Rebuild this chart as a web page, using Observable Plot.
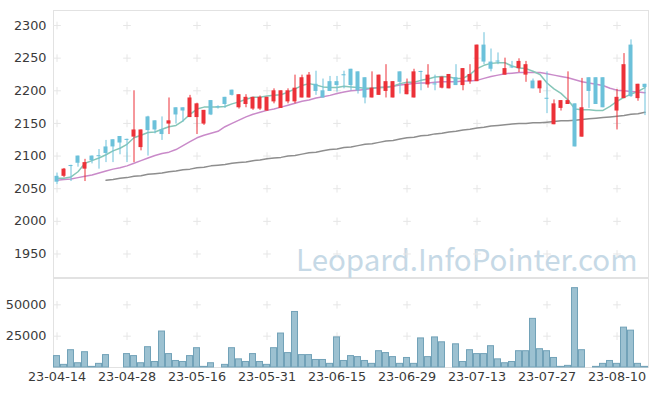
<!DOCTYPE html>
<html><head><meta charset="utf-8">
<script src="https://cdn.jsdelivr.net/npm/d3@7"></script>
<script src="https://cdn.jsdelivr.net/npm/@observablehq/plot@0.6"></script>
<style>
body{margin:0;background:#fff}
#chart{width:657px;height:396px;overflow:hidden}
#chart svg{display:block}
</style>
</head><body><div id="chart"></div>
<script>
const dates = [
"23-04-14","23-04-17","23-04-18","23-04-19","23-04-20","23-04-21","23-04-24","23-04-25","23-04-26","23-04-27",
"23-04-28","23-05-02","23-05-03","23-05-04","23-05-08","23-05-09","23-05-10","23-05-11","23-05-12","23-05-15",
"23-05-16","23-05-17","23-05-18","23-05-19","23-05-22","23-05-23","23-05-24","23-05-25","23-05-26","23-05-30",
"23-05-31","23-06-01","23-06-02","23-06-05","23-06-07","23-06-08","23-06-09","23-06-12","23-06-13","23-06-14",
"23-06-15","23-06-16","23-06-19","23-06-20","23-06-21","23-06-22","23-06-23","23-06-26","23-06-27","23-06-28",
"23-06-29","23-06-30","23-07-03","23-07-04","23-07-05","23-07-06","23-07-07","23-07-10","23-07-11","23-07-12",
"23-07-13","23-07-14","23-07-17","23-07-18","23-07-19","23-07-20","23-07-21","23-07-24","23-07-25","23-07-26",
"23-07-27","23-07-28","23-07-31","23-08-01","23-08-02","23-08-03","23-08-04","23-08-07","23-08-08","23-08-09",
"23-08-10","23-08-11","23-08-14","23-08-16","23-08-17"];

const open = [2069,2069,2085,2100,2080,2100,2100,2114,2125,2130,
2125,2129,2113,2160,2154,2140,2149,2174,2174,2159,
2159,2149,2185,2175,2190,2201,2174,2179,2172,2172,
2169,2183,2173,2183,2183,2189,2189,2210,2200,2214,
2214,2224,2233,2229,2220,2189,2193,2199,2189,2229,
2194,2189,2229,2209,2210,2204,2203,2220,2208,2214,
2214,2270,2244,2245,2224,2236,2234,2224,2215,2203,
2188,2148,2173,2179,2180,2129,2220,2220,2220,null,
2169,2188,2270,2188,2210];
const high = [2074,2081,2086,2100,2095,2100,2110,2124,2125,2130,
2126,2200,2140,2161,2154,2160,2189,2174,2174,2193,
2181,2170,2185,2177,2190,2201,2194,2194,2190,2192,
2190,2203,2200,2203,2224,2224,2228,2230,2218,2222,
2222,2230,2233,2229,2220,2229,2224,2240,2214,2229,
2218,2233,2230,2240,2224,2221,2225,2240,2234,2240,
2270,2289,2264,2258,2250,2245,2249,2245,2218,2215,
2229,2186,2185,2229,2180,2219,2220,2220,2220,null,
2202,2257,2278,2210,2210];
const low = [2056,2067,2061,2083,2061,2088,2080,2090,2090,2102,
2090,2090,2108,2100,2134,2124,2133,2149,2152,2159,
2133,2147,2162,2172,2173,2192,2172,2174,2170,2170,
2169,2180,2173,2180,2180,2189,2189,2193,2189,2199,
2198,2203,2200,2195,2180,2189,2193,2189,2189,2195,
2194,2189,2200,2204,2200,2203,2203,2208,2200,2210,
2214,2240,2229,2240,2224,2234,2228,2213,2203,2196,
2165,2148,2169,2179,2114,2129,2173,2179,2174,null,
2140,2188,2190,2184,2162];
const close = [2060,2080,2084,2089,2090,2093,2099,2104,2114,2120,
2124,2140,2140,2139,2140,2133,2154,2163,2169,2189,
2180,2170,2163,2174,2179,2193,2194,2190,2190,2190,
2190,2200,2200,2200,2204,2220,2224,2199,2189,2199,
2208,2223,2208,2200,2189,2204,2224,2214,2214,2213,
2210,2229,2228,2224,2209,2221,2225,2208,2234,2225,
2270,2244,2233,2244,2234,2235,2245,2240,2203,2215,
2187,2180,2185,2185,2114,2174,2199,2179,2174,null,
2190,2240,2191,2210,2205];
const volume = [9100,2100,13800,3400,12200,500,2900,9900,0,0,
10700,9100,3400,16200,4400,28700,10700,5200,4400,9100,
15400,500,3400,0,2100,15400,6500,4400,10700,4400,
2100,15400,27100,11500,44300,9900,9900,6000,6000,2900,
24000,5200,9100,8300,5200,2900,13000,11500,8300,2900,
7600,2900,23200,8300,24000,20100,0,18500,4400,13800,
10700,10700,17000,6500,3400,4400,13000,13000,38800,14600,
13000,7600,500,1300,63300,13800,0,500,2900,5200,
2900,31800,29400,2900,500];
const ma5 = [2066,2066,2068,2076,2089,2093,2097,2102,2108,2112,
2118,2128,2132,2136,2137,2141,2145,2147,2154,2164,
2172,2175,2175,2175,2176,2180,2183,2187,2190,2190,
2192,2193,2194,2198,2203,2208,2211,2209,2206,2205,
2205,2207,2206,2205,2204,2204,2205,2205,2207,2211,
2213,2213,2216,2218,2221,2222,2221,2219,2219,2225,
2234,2239,2242,2243,2243,2238,2235,2234,2230,2225,
2212,2203,2196,2186,2172,2171,2171,2170,2170,2176,
2184,2190,2195,2199,2205];
const ma20 = [2063,2064,2065,2067,2069,2071,2074,2077,2080,2082,
2085,2089,2093,2097,2101,2104,2106,2110,2116,2122,
2128,2132,2135,2138,2145,2150,2155,2160,2164,2167,
2170,2172,2175,2178,2181,2184,2186,2189,2191,2193,
2196,2198,2200,2201,2202,2204,2205,2206,2207,2209,
2210,2211,2212,2212,2213,2214,2214,2214,2215,2215,
2216,2219,2222,2224,2226,2227,2228,2228,2228,2228,
2226,2224,2222,2220,2217,2214,2212,2210,2208,2204,
2201,2200,2199,2198,2197];
const ma60 = [null,null,null,null,null,null,null,2063,2064,2066,
2067,2069,2070,2072,2073,2074,2076,2077,2079,2080,
2082,2083,2085,2086,2087,2089,2090,2091,2093,2094,
2096,2097,2098,2100,2101,2103,2105,2106,2108,2110,
2111,2113,2114,2116,2118,2119,2121,2123,2124,2126,
2128,2129,2131,2132,2134,2135,2137,2138,2140,2141,
2143,2144,2146,2147,2148,2149,2150,2150,2151,2151,
2152,2153,2154,2154,2155,2156,2157,2158,2159,2160,
2161,2162,2164,2165,2167];

const priceTicks = [1950,2000,2050,2100,2150,2200,2250,2300];
const volumeTicks = [25000,50000];
const dateTicks = ["23-04-14","23-04-28","23-05-16","23-05-31","23-06-15","23-06-29","23-07-13","23-07-27","23-08-10"];

const UP = "#ec3138", DOWN = "#6cc1da";
const rows = dates.map((d,i)=>({date:d,o:open[i],h:high[i],l:low[i],c:close[i],v:volume[i],m5:ma5[i],m20:ma20[i],m60:ma60[i]}));
const candles = rows.filter(r=>r.o!=null).map(r=>{
  const bot = Math.min(r.o,r.c); let top = Math.max(r.o,r.c);
  if (top-bot < 1.6) top = bot + 1.6;
  return {...r, bot, top, col: r.c >= r.o ? UP : DOWN};
});
const font = "'DejaVu Sans',sans-serif";
const wmFont = "'Noto Sans CJK KR','Noto Sans',sans-serif";
const W = 657, ML = 53, MR = 9;
const grid = (ys) => dateTicks.flatMap(d=>ys.map(y=>({d,y})));
const plain = d => String(d);
const AX = 12.8, TXT = "#3a3a3a";

const main = Plot.plot({
  width:W, height:278, marginTop:10, marginLeft:ML, marginRight:MR, marginBottom:1,
  style:{fontFamily:font, fontSize:AX+"px", color:TXT, background:"transparent"},
  x:{type:"band", domain:dates, padding:0, axis:null},
  y:{domain:[1914,2323], axis:null},
  marks:[
    Plot.frame({stroke:"#e2e2e2"}),
    Plot.text(["Leopard.InfoPointer.com"],{frameAnchor:"bottom-right", dx:-11, dy:-7, fontSize:29.5, fill:"#c6d9e6", fontFamily:wmFont}),
    Plot.dot(grid(priceTicks),{x:"d", y:"y", symbol:"plus", r:2.6, stroke:"#e6e6e6", strokeWidth:1}),
    Plot.axisY({ticks:priceTicks, tickSize:0, tickPadding:7, fontSize:AX, fill:TXT, tickFormat:plain}),
    Plot.lineY(rows.filter(r=>r.m60!=null),{x:"date", y:"m60", stroke:"#8e8e8e", strokeWidth:1.5}),
    Plot.lineY(rows,{x:"date", y:"m20", stroke:"#c98ac9", strokeWidth:1.5}),
    Plot.lineY(rows,{x:"date", y:"m5", stroke:"#86c6b8", strokeWidth:1.5}),
    Plot.ruleX(candles,{x:"date", y1:"l", y2:"h", stroke:"col", strokeWidth:1}),
    Plot.barY(candles,{x:"date", y1:"bot", y2:"top", fill:"col", insetLeft:1.5, insetRight:1.5})
  ]
});

const vol = Plot.plot({
  width:W, height:118, marginTop:0, marginLeft:ML, marginRight:MR, marginBottom:29,
  style:{fontFamily:font, fontSize:AX+"px", color:TXT, background:"transparent", overflow:"visible"},
  x:{type:"band", domain:dates, padding:0, axis:null},
  y:{domain:[0,71000], axis:null},
  marks:[
    Plot.frame({stroke:"#e2e2e2"}),
    Plot.dot(grid(volumeTicks),{x:"d", y:"y", symbol:"plus", r:2.6, stroke:"#e6e6e6", strokeWidth:1}),
    Plot.barY(rows,{x:"date", y:"v", fill:"#9cc1d1", stroke:"#72a2b8", strokeWidth:1, insetLeft:0.5, insetRight:0.5}),
    Plot.axisY({ticks:volumeTicks, tickSize:0, tickPadding:7, fontSize:AX, fill:TXT, tickFormat:plain}),
    Plot.axisX({ticks:dateTicks, tickSize:0, tickPadding:4, fontSize:AX, fill:TXT})
  ]
});

const el = document.getElementById("chart");
el.appendChild(main);
el.appendChild(vol);
</script>
</body></html>
